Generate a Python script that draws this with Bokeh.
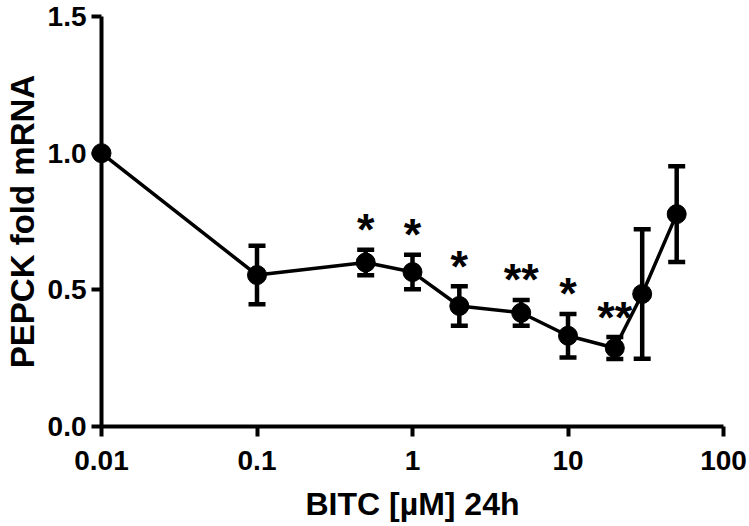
import numpy as np
from bokeh.plotting import figure
from bokeh.models import (ColumnDataSource, Whisker, TeeHead, FixedTicker,
                          CustomJSTickFormatter, NumeralTickFormatter, Range1d)
from bokeh.embed import file_html
from bokeh.resources import INLINE
from bokeh.core.properties import value

# ---- data ----
conc = [0.01, 0.1, 0.5, 1, 2, 5, 10, 20, 30, 50]
mean = [1.00, 0.554, 0.600, 0.565, 0.441, 0.416, 0.332, 0.287, 0.485, 0.777]
sem = [0.0, 0.107, 0.047, 0.063, 0.072, 0.047, 0.080, 0.040, 0.237, 0.175]
stars = ["", "", "*", "*", "*", "**", "*", "**", "", ""]
x_ticks = [0.01, 0.1, 1, 10, 100]
y_ticks = [0.0, 0.5, 1.0, 1.5]
x_label = "BITC [µM] 24h"
y_label = "PEPCK fold mRNA"

upper = [m + s for m, s in zip(mean, sem)]
lower = [m - s for m, s in zip(mean, sem)]

src = ColumnDataSource(dict(x=conc, y=mean, upper=upper, lower=lower))
err_idx = [i for i, s in enumerate(sem) if s > 0]
err_src = ColumnDataSource(dict(x=[conc[i] for i in err_idx],
                                upper=[upper[i] for i in err_idx],
                                lower=[lower[i] for i in err_idx]))
star_idx = [i for i, s in enumerate(stars) if s]
star_src = ColumnDataSource(dict(x=[conc[i] for i in star_idx],
                                 y=[upper[i] for i in star_idx],
                                 t=[stars[i] for i in star_idx]))

FONT = "Liberation Sans"

p = figure(width=747, height=524, x_axis_type="log",
           x_range=Range1d(0.01, 100), y_range=Range1d(0, 1.5),
           output_backend="svg", toolbar_location=None,
           min_border_left=100, min_border_right=24, min_border_top=16,
           min_border_bottom=96)
p.outline_line_color = None
p.grid.visible = False
p.background_fill_color = "white"
p.border_fill_color = "white"

# connecting line
p.line("x", "y", source=src, line_color="black", line_width=3.5)

# error bars
w = Whisker(base="x", upper="upper", lower="lower", source=err_src,
            line_color="black", line_width=4.5,
            upper_head=TeeHead(size=17, line_color="black", line_width=4.5),
            lower_head=TeeHead(size=17, line_color="black", line_width=4.5))
p.add_layout(w)

# markers
r = p.scatter("x", "y", source=src, size=19, marker="circle",
              fill_color="black", line_color="black")
r.level = "overlay"

# significance stars
p.text("x", "y", text="t", source=star_src, text_align="center",
       text_baseline="alphabetic", text_font=value(FONT),
       text_font_style="bold", y_offset=-20,
       text_font_size="45px", text_color="black")

# axes
for ax in (p.xaxis[0], p.yaxis[0]):
    ax.axis_line_width = 4
    ax.axis_line_color = "black"
    ax.major_tick_line_width = 4
    ax.major_tick_line_color = "black"
    ax.major_tick_out = 10
    ax.major_tick_in = 0
    ax.minor_tick_out = 0
    ax.minor_tick_in = 0
    ax.major_label_text_font = FONT
    ax.major_label_text_font_style = "bold"
    ax.major_label_text_font_size = "28px"
    ax.major_label_text_color = "black"
    ax.axis_label_text_font = FONT
    ax.axis_label_text_font_style = "bold"
    ax.axis_label_text_color = "black"

p.xaxis.ticker = FixedTicker(ticks=x_ticks, minor_ticks=[])
p.xaxis.formatter = CustomJSTickFormatter(code="return tick.toString();")
p.xaxis.axis_label = x_label
p.xaxis.axis_label_text_font_size = "32px"
p.xaxis.major_label_standoff = 14
p.xaxis.axis_label_standoff = 13

p.yaxis.ticker = FixedTicker(ticks=y_ticks, minor_ticks=[])
p.yaxis.formatter = NumeralTickFormatter(format="0.0")
p.yaxis.axis_label = y_label
p.yaxis.axis_label_text_font_size = "33px"
p.yaxis.major_label_standoff = 5
p.yaxis.axis_label_standoff = 4

open("out.html", "w").write(file_html(p, INLINE))
